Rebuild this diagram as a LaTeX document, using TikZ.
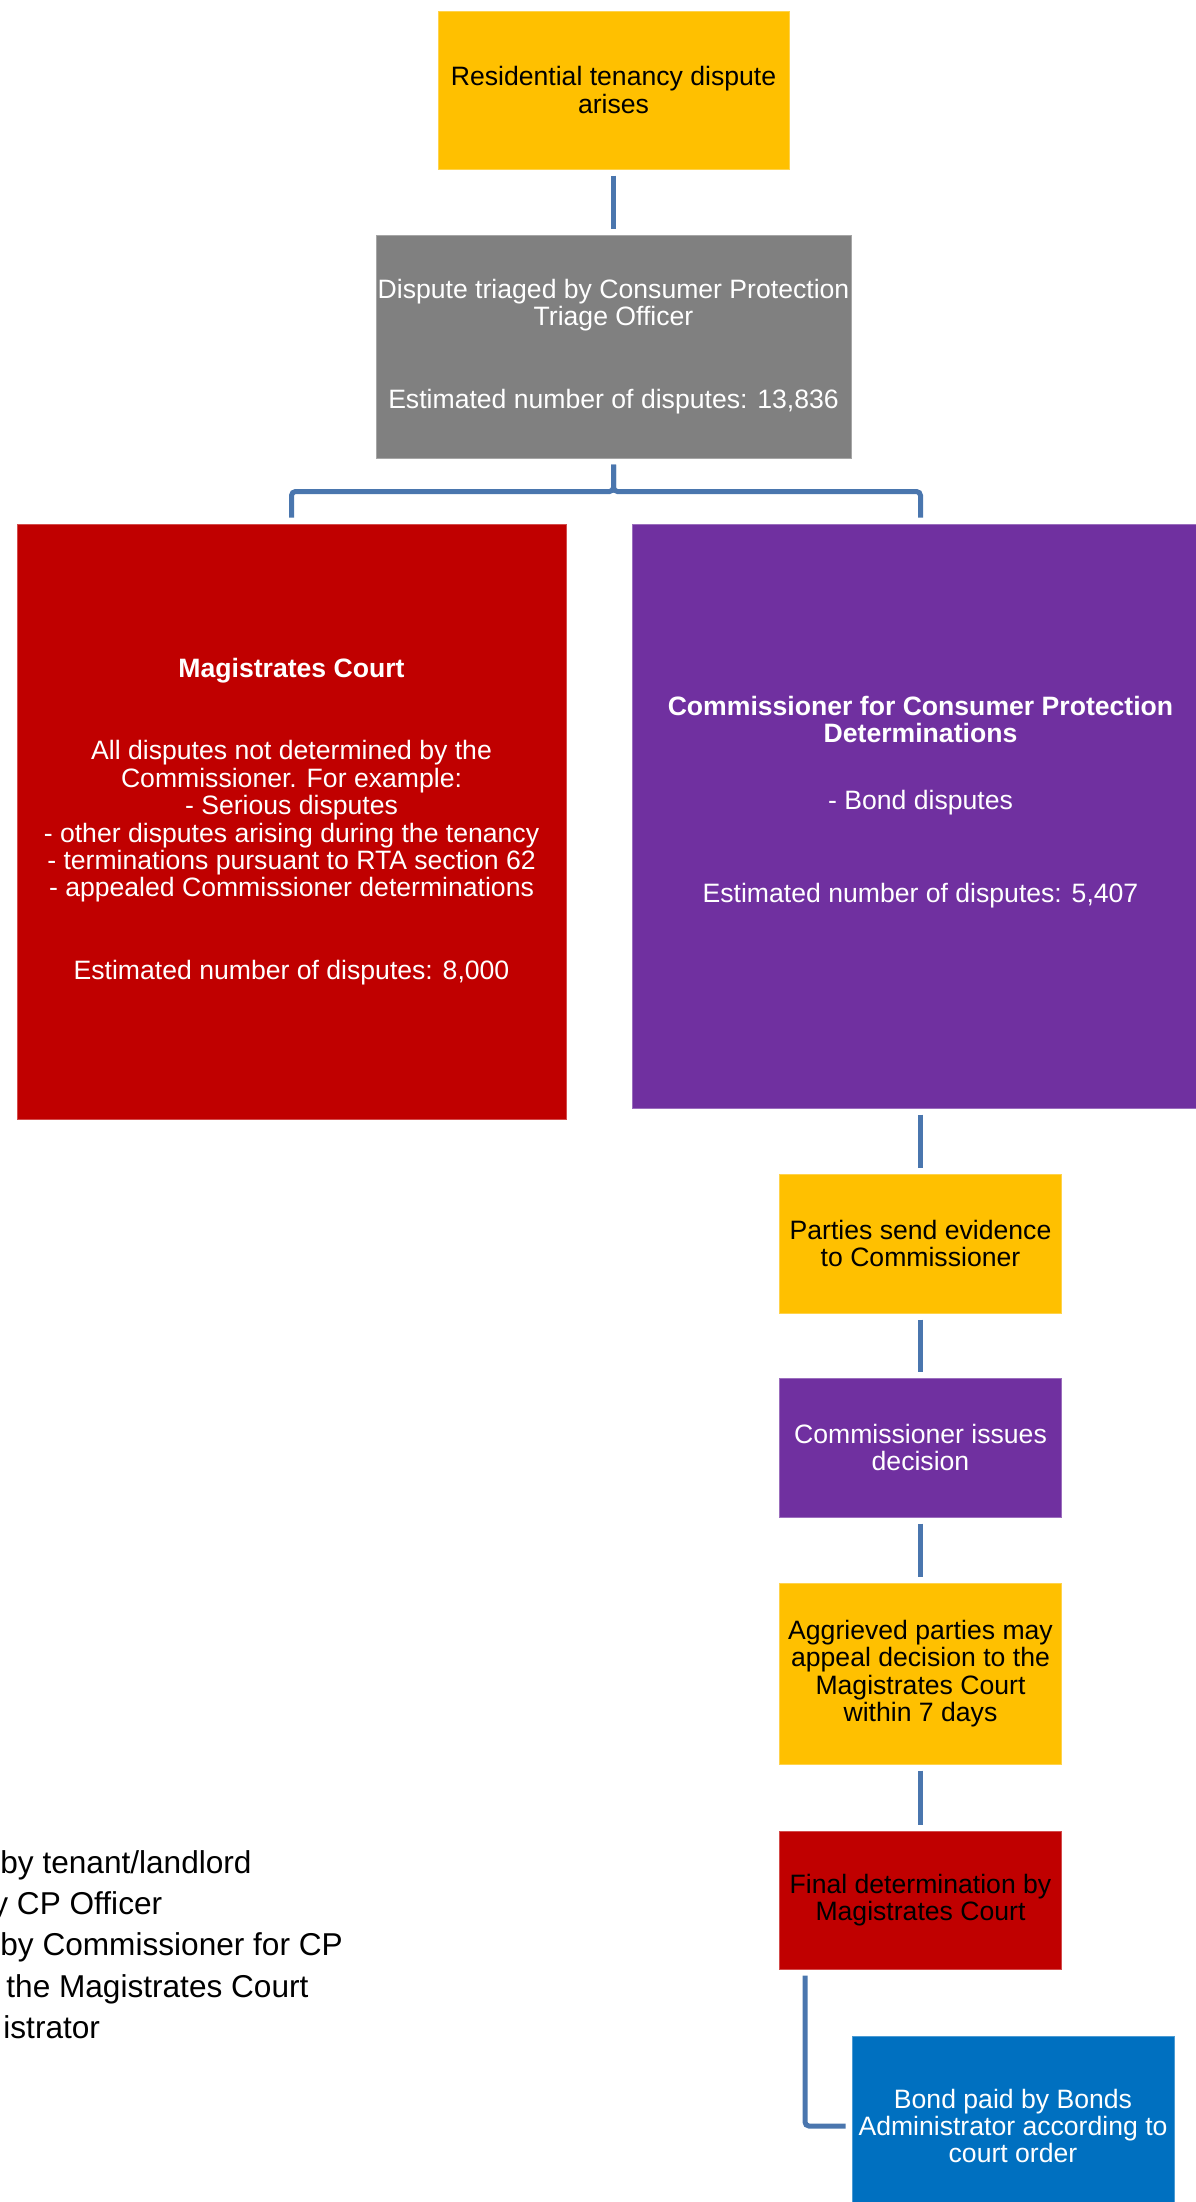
\documentclass[tikz,border=0pt]{standalone}
\usepackage{fontspec}
\setmainfont{Liberation Sans}
\usepackage{tikz}

\definecolor{cpgelb}{HTML}{FFC000}
\definecolor{cpgrau}{HTML}{808080}
\definecolor{cprot}{HTML}{C00000}
\definecolor{cplila}{HTML}{7030A0}
\definecolor{cpblau}{HTML}{0070C0}
\definecolor{linienblau}{HTML}{4A76AE}

\newcommand{\kastenschrift}{\fontsize{13.3}{13.7}\selectfont}
\newcommand{\legendenschrift}{\fontsize{15.8}{20.6}\selectfont}

\tikzset{
  kasten/.style={rectangle, fill=#1, draw=#1!70!white, line width=0.5pt,
                 inner sep=0pt, align=center, font=\kastenschrift},
  kastentext/.style={inner sep=0pt, align=center, font=\kastenschrift, text=white},
  verbinder/.style={draw=linienblau, line width=2.5pt, shorten >=3pt, shorten <=3pt,
                    rounded corners=2pt},
  legende/.style={anchor=base west, inner sep=0pt, font=\legendenschrift}
}

\begin{document}
\begin{tikzpicture}[x=0.5pt, y=-0.5pt]
    % Seitenrahmen
    \useasboundingbox (0,0) rectangle (1195,2202);

    % Streit entsteht und Triage
    \node[kasten=cpgelb, minimum width=175.5pt, minimum height=79pt] (arise) at (613.5,90)
        {Residential tenancy dispute\\arises};
    \node[kasten=cpgrau, text=white, minimum width=237.5pt, minimum height=111.5pt] (triage) at (613.5,346.5)
        {Dispute triaged by Consumer Protection\\Triage Officer\\[27.7pt]Estimated number of disputes: 13,836};

    % Gericht links
    \node[kasten=cprot, text=white, minimum width=274.5pt, minimum height=297.5pt] (court) at (291.5,821.5)
        {\textbf{Magistrates Court}\\[27.7pt]All disputes not determined by the\\Commissioner. For example:\\- Serious disputes\\- other disputes arising during the tenancy\\- terminations pursuant to RTA section 62\\- appealed Commissioner determinations\\[27.7pt]Estimated number of disputes: 8,000};

    % Commissioner rechts
    \node[kasten=cplila, minimum width=288pt, minimum height=292pt] (cfcp) at (920.5,816) {};
    \node[kastentext] (cfcptext) at (920.5,802)
        {\textbf{Commissioner for Consumer Protection}\\\textbf{Determinations}\\[19.8pt]- Bond disputes\\[32.8pt]Estimated number of disputes: 5,407};

    % Ablauf beim Commissioner
    \node[kasten=cpgelb, minimum width=141pt, minimum height=69.5pt] (evid) at (920.5,1243.5)
        {Parties send evidence\\to Commissioner};
    \node[kasten=cplila, text=white, minimum width=141pt, minimum height=69.5pt] (decis) at (920.5,1447.5)
        {Commissioner issues\\decision};
    \node[kasten=cpgelb, minimum width=141pt, minimum height=90.5pt] (appeal) at (920.5,1673.5)
        {Aggrieved parties may\\appeal decision to the\\Magistrates Court\\within 7 days};
    \node[kasten=cprot, minimum width=141pt, minimum height=69pt] (final) at (920.5,1900)
        {Final determination by\\Magistrates Court};
    \node[kasten=cpblau, text=white, minimum width=161pt, minimum height=90pt] (bond) at (1013,2126)
        {Bond paid by Bonds\\Administrator according to\\court order};

    % Verbindungen
    \draw[verbinder] (arise) -- (triage);
    \draw[verbinder] (triage.south) -- ++(0,33) -| (court.north);
    \draw[verbinder] (triage.south) -- ++(0,33) -| (cfcp.north);
    \draw[verbinder] (cfcp) -- (evid);
    \draw[verbinder] (evid) -- (decis);
    \draw[verbinder] (decis) -- (appeal);
    \draw[verbinder] (appeal) -- (final);
    \draw[verbinder] ([xshift=13pt]final.south west) |- (bond.west);

    % Legende (links abgeschnitten)
    \node[legende] (key1) at (0,1873) {by tenant/landlord};
    \node[legende] (key2) at (-8,1914) {y CP Officer};
    \node[legende] (key3) at (0,1955) {by Commissioner for CP};
    \node[legende] (key4) at (6,1997) {the Magistrates Court};
    \node[legende] (key5) at (3,2038) {istrator};
\end{tikzpicture}
\end{document}
